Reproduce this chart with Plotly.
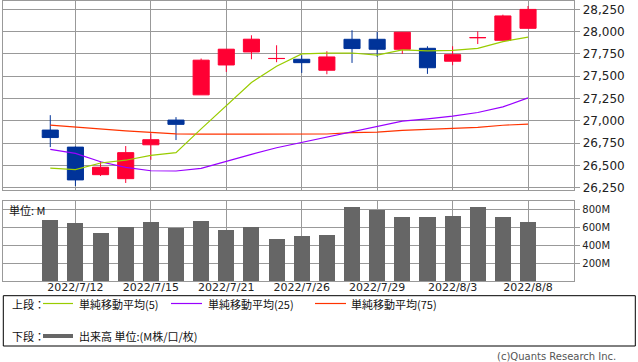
import plotly.graph_objects as go

# ---------------- data ----------------
dates = ["2022/7/11", "2022/7/12", "2022/7/13", "2022/7/14", "2022/7/15",
         "2022/7/19", "2022/7/20", "2022/7/21", "2022/7/22", "2022/7/25",
         "2022/7/26", "2022/7/27", "2022/7/28", "2022/7/29", "2022/8/1",
         "2022/8/2", "2022/8/3", "2022/8/4", "2022/8/5", "2022/8/8"]
open_ = [26896, 26705, 26396, 26351, 26731, 27008, 27291, 27626, 27772, 27698,
         27690, 27567, 27914, 27914, 27802, 27813, 27668, 27932, 27903, 28037]
high = [27063, 26712, 26545, 26717, 26859, 27041, 27698, 27803, 27959, 27847,
        27735, 27780, 28015, 27996, 27995, 27836, 27836, 28003, 28190, 28287]
low = [26705, 26269, 26381, 26303, 26563, 26784, 27291, 27548, 27690, 27657,
       27537, 27522, 27649, 27716, 27749, 27526, 27623, 27861, 27903, 28037]
close = [26812, 26337, 26479, 26643, 26788, 26960, 27680, 27803, 27915, 27699,
         27652, 27716, 27810, 27802, 27993, 27595, 27742, 27933, 28176, 28249]
sma5 = [26470, 26453, 26527, 26558, 26612, 26642, 26910, 27175, 27430, 27612,
        27750, 27758, 27760, 27737, 27796, 27784, 27789, 27813, 27888, 27939]
sma25 = [26679, 26635, 26541, 26478, 26440, 26437, 26467, 26541, 26623, 26698,
         26758, 26821, 26881, 26935, 26996, 27022, 27052, 27093, 27156, 27257]
sma75 = [26952, 26929, 26911, 26888, 26870, 26854, 26851, 26850, 26850, 26850,
         26851, 26852, 26868, 26872, 26892, 26903, 26914, 26926, 26950, 26963]
volume_m = [685, 651, 539, 606, 662, 599, 674, 576, 606, 472,
            506, 517, 830, 797, 718, 718, 730, 830, 718, 662]

tick_dates = ["2022/7/12", "2022/7/15", "2022/7/21", "2022/7/26",
              "2022/7/29", "2022/8/3", "2022/8/8"]
price_ticks = [26250, 26500, 26750, 27000, 27250, 27500, 27750, 28000, 28250]
vol_ticks_m = [200, 400, 600, 800]

legend_labels = ["単純移動平均(5)", "単純移動平均(25)", "単純移動平均(75)"]
volume_label = "出来高 単位:(M株/口/枚)"

# ---------------- styling ----------------
W, H = 638, 362
RED = "#ff0033"
BLUE = "#003399"
GRID = "#999999"
C5, C25, C75 = "#99cc00", "#9900ff", "#ff3300"
VOLC = "#666666"


def px_x(x):
    return x / W


def px_y(y):
    return 1 - y / H


xs = list(range(len(dates)))
tickx = [dates.index(d) for d in tick_dates]
volume = [v * 1e6 for v in volume_m]

fig = go.Figure()

fig.add_trace(go.Candlestick(
    x=xs, open=open_, high=high, low=low, close=close,
    increasing=dict(line=dict(color=RED, width=1), fillcolor=RED),
    decreasing=dict(line=dict(color=BLUE, width=1), fillcolor=BLUE),
    whiskerwidth=0, showlegend=False, hoverinfo="skip",
    xaxis="x", yaxis="y"))

for vals, col in [(sma75, C75), (sma25, C25), (sma5, C5)]:
    fig.add_trace(go.Scatter(x=xs, y=vals, mode="lines",
                             line=dict(color=col, width=1.2),
                             showlegend=False, hoverinfo="skip",
                             xaxis="x", yaxis="y"))

fig.add_trace(go.Bar(x=xs, y=volume, width=0.64, marker=dict(color=VOLC, line=dict(width=0)),
                     showlegend=False, hoverinfo="skip", xaxis="x2", yaxis="y2"))

xr = [-1.88, 20.84]
xdom = [px_x(3), px_x(574.3)]

axis_common = dict(showline=True, linecolor=GRID, linewidth=1, mirror=True,
                   gridcolor=GRID, gridwidth=1, zeroline=False, fixedrange=True,
                   automargin=False)

fig.update_layout(
    width=W, height=H,
    margin=dict(l=0, r=0, t=0, b=0, autoexpand=False),
    paper_bgcolor="white", plot_bgcolor="white",
    boxgap=0.36, boxgroupgap=0,
    bargap=0,
    xaxis=dict(domain=xdom, range=xr, anchor="y", tickvals=tickx,
               showticklabels=False, ticks="", rangeslider=dict(visible=False),
               **axis_common),
    yaxis=dict(domain=[px_y(190), px_y(0.5)], range=[26224, 28349], side="right",
               tickvals=price_ticks, ticktext=[f"{v:,}" for v in price_ticks],
               ticks="outside", ticklen=5, tickcolor=GRID,
               tickfont=dict(family="DejaVu Sans", size=12, color="#222222"),
               **axis_common),
    xaxis2=dict(domain=xdom, range=xr, anchor="y2", tickvals=tickx, ticktext=tick_dates,
                ticks="", ticklabelstandoff=-4,
                tickfont=dict(family="DejaVu Sans", size=11, color="#222222"),
                **axis_common),
    yaxis2=dict(domain=[px_y(281.2), px_y(201)], range=[0, 897e6], side="right",
                tickvals=[v * 1e6 for v in vol_ticks_m], ticktext=[f"{v}M" for v in vol_ticks_m],
                ticks="outside", ticklen=5, tickcolor=GRID,
                tickfont=dict(family="DejaVu Sans", size=10, color="#222222"),
                **axis_common),
)

shapes = []
annotations = []
FONT = "Noto Sans CJK JP"

# legend box
shapes.append(dict(type="rect", xref="paper", yref="paper",
                   x0=px_x(3.3), x1=px_x(635.3), y0=px_y(346), y1=px_y(295.7),
                   line=dict(color="black", width=1), fillcolor="rgba(0,0,0,0)"))

row1, row2 = 303.5, 336
annotations.append(dict(text="上段：", x=px_x(10), y=px_y(row1)))
annotations.append(dict(text="下段：", x=px_x(10), y=px_y(row2)))

leg = [(43, 73, 77, C5, legend_labels[0]),
       (171, 202, 205.5, C25, legend_labels[1]),
       (315, 346, 349, C75, legend_labels[2])]
for x0, x1, tx, col, lab in leg:
    shapes.append(dict(type="line", xref="paper", yref="paper",
                       x0=px_x(x0), x1=px_x(x1), y0=px_y(row1), y1=px_y(row1),
                       line=dict(color=col, width=1.2)))
    annotations.append(dict(text=lab, x=px_x(tx), y=px_y(row1)))

shapes.append(dict(type="line", xref="paper", yref="paper",
                   x0=px_x(43), x1=px_x(73), y0=px_y(row2), y1=px_y(row2),
                   line=dict(color=VOLC, width=4)))
annotations.append(dict(text=volume_label, x=px_x(77), y=px_y(row2)))

annotations.append(dict(text="単位: M", x=px_x(7), y=px_y(209.5)))

for a in annotations:
    a.update(xref="paper", yref="paper", xanchor="left", yanchor="middle",
             showarrow=False, font=dict(family=FONT, size=11, color="#111111"))

annotations.append(dict(text="(c)Quants Research Inc.", x=px_x(618), y=px_y(356),
                        xref="paper", yref="paper", xanchor="right", yanchor="middle",
                        showarrow=False,
                        font=dict(family="DejaVu Sans", size=10, color="#555555")))

fig.update_layout(shapes=shapes, annotations=annotations)

fig.write_html("out.html", config=dict(displayModeBar=False, staticPlot=True),
               post_script="document.body.style.margin='0';document.body.style.padding='0';")
